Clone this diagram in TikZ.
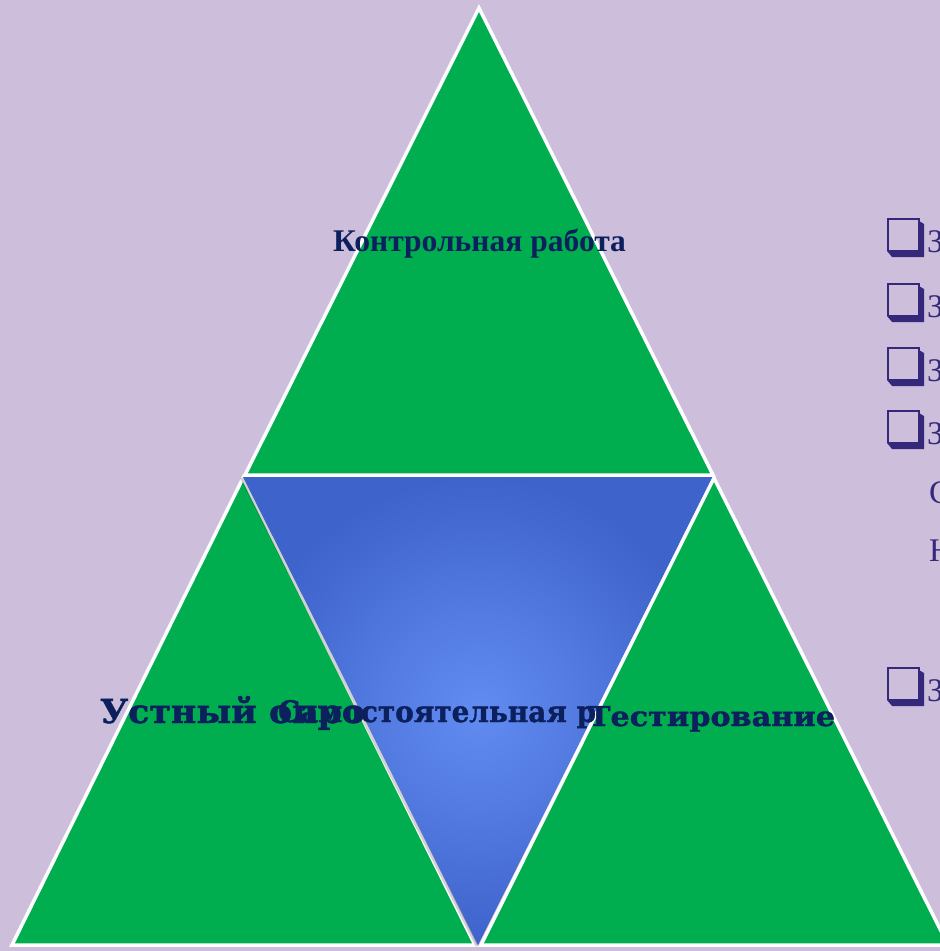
\documentclass[tikz,border=0pt]{standalone}
\usepackage{fontspec}
\setmainfont{Liberation Serif}
\newfontfamily\bkfont{DejaVu Serif}[FakeBold=1.3]
\usetikzlibrary{shadows}
\definecolor{bgcol}{HTML}{CDBEDC}
\definecolor{grn}{HTML}{00AE4F}
\definecolor{blueIn}{HTML}{628CF2}
\definecolor{blueOut}{HTML}{3E63CB}
\definecolor{navy}{HTML}{0D205E}
\definecolor{bulcol}{HTML}{35287A}
\tikzset{
  greentri/.style={fill=grn, draw=white, line width=3.5pt, line join=miter},
  labeltext/.style={inner sep=0pt, outer sep=0pt, text=navy, anchor=base west},
  bullettext/.style={inner sep=0pt, outer sep=0pt, text=bulcol, anchor=base west, font=\fontsize{33}{35}\selectfont},
}
\begin{document}
\begin{tikzpicture}[x=1pt,y=-1pt]
\useasboundingbox (0,0) rectangle (940,951);
\fill[bgcol] (0,0) rectangle (940,951);
\clip (0,0) rectangle (940,951);
% triangles
\coordinate (tA) at (479,8);
\coordinate (tL) at (245,475);
\coordinate (tR) at (713,475);
\coordinate (lA) at (243,478);
\coordinate (lL) at (12,945);
\coordinate (lR) at (475,945);
\coordinate (rA) at (714,478);
\coordinate (rL) at (481,945);
\coordinate (rR) at (948,945);
\coordinate (bL) at (243,477);
\coordinate (bR) at (713,477);
\coordinate (bB) at (478,945);
\draw[greentri] (lA) -- (lL) -- (lR) -- cycle;
\draw[greentri] (tA) -- (tL) -- (tR) -- cycle;
% blue triangle with soft shadow
\fill[black, opacity=0.18] ([xshift=-3pt,yshift=-1pt]bL) -- ([xshift=-3pt,yshift=-1pt]bR) -- ([xshift=-2pt,yshift=-2pt]bB) -- cycle;
\shade[inner color=blueIn, outer color=blueOut] (bL) -- (bR) -- (bB) -- cycle;
\draw[greentri] (rA) -- (rL) -- (rR) -- cycle;
% labels
\node[labeltext] (kr) at (333,251) {\resizebox{293pt}{!}{\bfseries Контрольная работа}};
\node[labeltext] (uo) at (100,723) {\resizebox{265pt}{27pt}{\bkfont\bfseries Устный опро}};
\node[labeltext] (sr) at (278,722) {\resizebox{318pt}{22pt}{\bkfont\bfseries Самостоятельная р}};
\node[labeltext] (ts) at (588,726) {\resizebox{247pt}{20pt}{\bkfont\bfseries Тестирование}};
% right-hand bullets
\foreach \y/\n in {218/b1,283/b2,347/b3,410/b4,667/b5}{
  \fill[bulcol] (919,\y+3) -- (924,\y+6) -- (924,\y+39) -- (892,\y+39) -- (887,\y+33) -- (919,\y+33) -- cycle;
  \draw[bulcol, line width=1.6pt] (887.8,\y+0.8) rectangle (918.8,\y+32.4);
  \node[bullettext] (\n) at (927,\y+34) {З};
}
\node[bullettext] (c1) at (929,503) {С};
\node[bullettext] (h1) at (929,561) {Н};
\end{tikzpicture}
\end{document}
